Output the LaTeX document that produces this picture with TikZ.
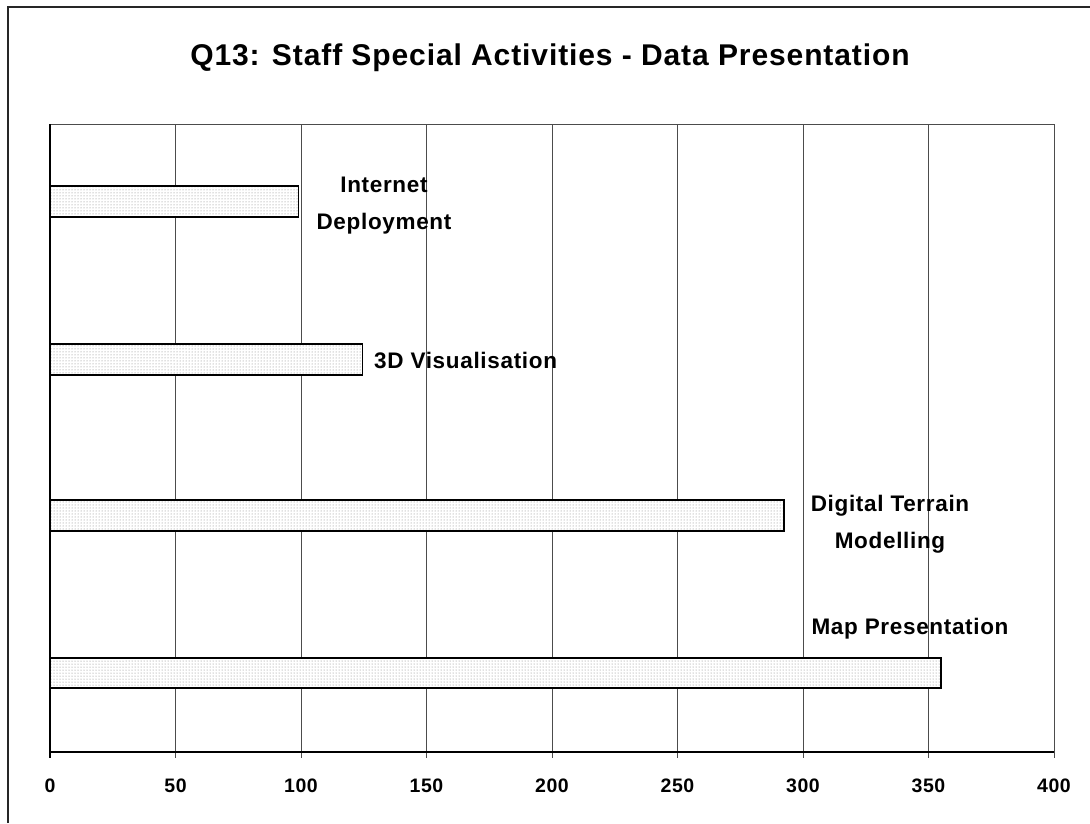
\documentclass[tikz,border=0pt]{standalone}
\usepackage{fontspec}
\setmainfont{Liberation Sans}
\newfontfamily\chartfont[LetterSpace=3]{Liberation Sans}
\usetikzlibrary{positioning,patterns}
\newcommand{\xv}[1]{50+2.51*#1}
\tikzstyle{grid}=[gray!60!black, line width=0.8pt]
\tikzstyle{axisline}=[black, line width=1.4pt]
\tikzstyle{bar}=[draw, line width=1.6pt, preaction={fill=white}, pattern=dots, pattern color=gray]
\tikzstyle{lbl}=[font=\chartfont\fontsize{22.5}{37}\selectfont\bfseries, align=center, inner sep=0pt]
\tikzstyle{tick}=[font=\chartfont\fontsize{19.5}{20}\selectfont\bfseries, inner sep=0pt]

\begin{document}
\begin{tikzpicture}[x=1pt,y=-1pt]
\useasboundingbox (0,0) rectangle (1090,823);
\fill[white] (0,0) rectangle (1090,823);
% frame
\draw[line width=2pt, gray!30!black] (8,823) -- (8,7) -- (1090,7);

\node[font=\chartfont\fontsize{30}{32}\selectfont\bfseries] (title) at (550,58) {Q13: Staff Special Activities - Data Presentation};

% grid and ticks
\foreach \v in {50,100,...,350}
  \draw[grid] ({\xv{\v}},124) -- ({\xv{\v}},758);
\draw[grid] (50,124) -- ({\xv{400}},124) -- ({\xv{400}},758);
\draw[axisline] (50,124) -- (50,758);
\draw[axisline] (50,752) -- ({\xv{400}},752);
\foreach \v in {0,50,...,400}
  \node[tick] (t\v) at ({\xv{\v}},786) {\v};

% bars
\draw[bar] (50,186) rectangle ({\xv{99}},217);
\draw[bar] (50,344) rectangle ({\xv{124.5}},375);
\draw[bar] (50,500) rectangle ({\xv{292.5}},531);
\draw[bar] (50,658) rectangle ({\xv{355}},688);

\node[lbl] (inet) at (384,206) {Internet\\Deployment};
\node[lbl, anchor=west] (vis) at (374,360) {3D Visualisation};
\node[lbl] (dtm) at (890,524) {Digital Terrain\\Modelling};
\node[lbl] (map) at (910,629) {Map Presentation};
\end{tikzpicture}
\end{document}
